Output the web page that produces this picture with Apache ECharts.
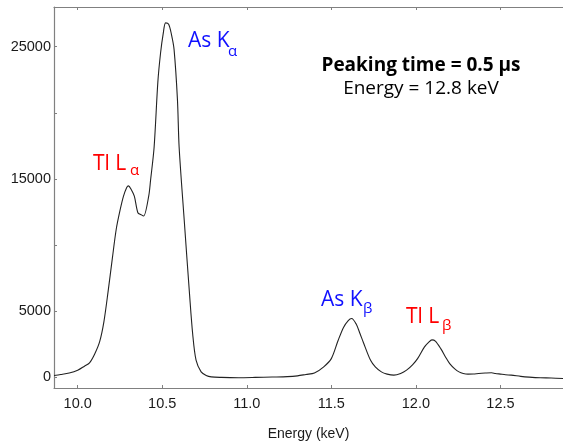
<!DOCTYPE html>
<html>
<head>
<meta charset="utf-8">
<script src="https://cdn.jsdelivr.net/npm/echarts@6/dist/echarts.min.js"></script>
<style>
html,body{margin:0;padding:0;background:#fff;}
#chart{width:563px;height:446px;}
</style>
</head>
<body>
<div id="chart"></div>
<script>
// Energy (keV)
const energy = [9.86,9.90,9.95,10.00,10.04,10.07,10.10,10.13,10.155,10.18,10.205,10.228,10.25,10.271,10.29,10.30,10.315,10.335,10.356,10.375,10.39,10.42,10.431,10.452,10.474,10.49,10.506,10.52,10.538,10.555,10.57,10.59,10.60,10.63,10.662,10.68,10.70,10.73,10.76,10.79,10.85,10.95,11.05,11.15,11.24,11.30,11.35,11.40,11.455,11.50,11.54,11.572,11.60,11.62,11.647,11.67,11.689,11.732,11.76,11.796,11.83,11.87,11.91,11.945,11.98,12.01,12.05,12.075,12.095,12.115,12.148,12.175,12.20,12.23,12.255,12.28,12.308,12.34,12.372,12.41,12.447,12.47,12.50,12.53,12.564,12.62,12.67,12.735,12.80,12.87];
// Counts
const counts = [150,220,330,540,850,1100,1750,2700,4200,6500,9000,11200,12600,13700,14350,14480,14250,13700,12450,12300,12200,13700,14900,17400,22300,24500,26000,26800,26700,25900,24800,21000,17400,11900,6200,3300,1300,420,150,40,0,-20,0,30,60,120,224,330,800,1420,2790,3780,4300,4450,4030,3300,2660,1290,800,420,250,170,300,550,950,1420,2290,2650,2840,2750,2160,1550,1045,650,420,300,250,260,300,330,350,300,250,200,174,80,20,-30,-40,-80];
const xTicks = [10.0,10.5,11.0,11.5,12.0,12.5];
const yTicks = [0,5000,10000,15000,20000,25000];
const yLabels = [0,5000,15000,25000];
const annotations = [
  {main:'As K', sub:'\u03B1', color:'#1010ff'},
  {main:'Tl L', sub:'\u03B1', color:'#ff0000'},
  {main:'As K', sub:'\u03B2', color:'#1010ff'},
  {main:'Tl L', sub:'\u03B2', color:'#ff0000'}
];
const titleLines = ['Peaking time = 0.5 \u03BCs', 'Energy = 12.8 keV'];

const data = energy.map((e,i)=>[e,counts[i]]);
const chart = echarts.init(document.getElementById('chart'), null, {renderer:'canvas'});
const axisCol = '#808080';
const labelFont = {fontFamily:'Liberation Sans', fontSize:14.5, color:'#1a1a1a'};
const annPos = [[188,40.7,228,52],[93,164,130,170.7],[321,300,363,309],[406,317.3,442,325.5]];
const g = [];
annotations.forEach((a,i)=>{
  const p = annPos[i];
  g.push({type:'text', x:p[0], y:p[1], style:{text:a.main, fill:a.color, font:'21px "Open Sans"', verticalAlign:'middle', align:'left'}});
  g.push({type:'text', x:p[2], y:p[3], style:{text:a.sub, fill:a.color, font:'15px "Open Sans"', verticalAlign:'middle', align:'left'}});
});
g.push({type:'text', x:421, y:66, style:{text:titleLines[0], fill:'#000', font:'bold 19px "Open Sans"', verticalAlign:'middle', align:'center'}});
g.push({type:'text', x:421, y:89, style:{text:titleLines[1], fill:'#000', font:'19px "Open Sans"', verticalAlign:'middle', align:'center'}});

chart.setOption({
  animation:false,
  grid:{left:54, right:0, top:7, bottom:51},
  xAxis:[{
    type:'value', min:9.86, max:12.87, position:'bottom',
    axisLine:{show:true, onZero:false, lineStyle:{color:axisCol, width:1.2}},
    axisTick:{show:true, inside:true, length:3, customValues:xTicks, lineStyle:{color:axisCol}},
    axisLabel:{customValues:xTicks, formatter:v=>Number(v).toFixed(1), margin:8, ...labelFont},
    splitLine:{show:false},
    name:'Energy (keV)', nameLocation:'middle', nameGap:39,
    nameTextStyle:{fontFamily:'Liberation Sans', fontSize:14, color:'#1a1a1a'}
  },{
    type:'value', min:9.86, max:12.87, position:'top',
    axisLine:{show:true, onZero:false, lineStyle:{color:axisCol, width:1.2}},
    axisTick:{show:true, inside:true, length:3, customValues:xTicks, lineStyle:{color:axisCol}},
    axisLabel:{show:false}, splitLine:{show:false}
  }],
  yAxis:{
    type:'value', min:-800, max:28000,
    axisLine:{show:true, onZero:false, lineStyle:{color:axisCol, width:1.2}},
    axisTick:{show:true, inside:true, length:3, customValues:yTicks, lineStyle:{color:axisCol}},
    axisLabel:{customValues:yLabels, formatter:v=>String(v), margin:3, ...labelFont},
    splitLine:{show:false}
  },
  series:[{
    type:'line', xAxisIndex:0, data:data, showSymbol:false, smooth:0.3,
    lineStyle:{color:'#222', width:1.1}
  }],
  graphic:g
});
</script>
</body>
</html>
